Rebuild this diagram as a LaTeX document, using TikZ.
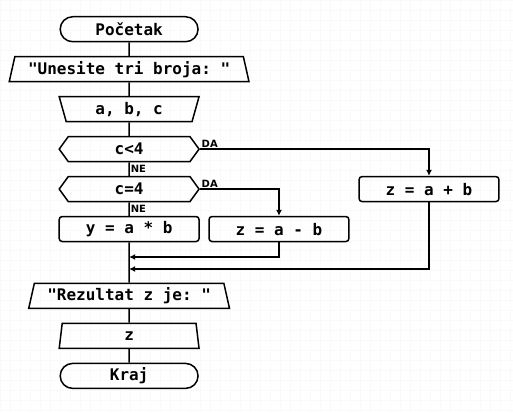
\documentclass[tikz,border=0pt]{standalone}
\usepackage{fontspec}
\setmainfont{DejaVu Sans}
\setsansfont{DejaVu Sans}
\setmonofont{DejaVu Sans Mono}
\usepackage{tikz}
\usetikzlibrary{arrows.meta,positioning,shapes.geometric,shapes.misc,shapes.symbols}

\begin{document}
\begin{tikzpicture}[x=1pt, y=-1pt,
        font=\ttfamily\bfseries\fontsize{16}{18}\selectfont,
        term/.style={draw, line width=1.5pt, rounded rectangle, minimum width=138pt, minimum height=25pt, inner sep=0pt},
        outbox/.style={draw, line width=1.5pt, trapezium, trapezium stretches body=true, trapezium angle=71, minimum height=25pt, inner sep=0pt},
        inbox/.style={draw, line width=1.5pt, trapezium, trapezium stretches body=true, trapezium angle=116, minimum height=25pt, inner sep=0pt},
        test/.style={draw, line width=1.5pt, signal, signal to=east and west, signal pointer angle=108, minimum width=140pt, minimum height=25pt, inner sep=0pt},
        proc/.style={draw, line width=1.5pt, rounded corners=3pt, minimum width=140pt, minimum height=25pt, inner sep=0pt},
        lab/.style={font=\sffamily\bfseries\fontsize{10}{12}\selectfont, inner sep=1pt},
        line/.style={line width=1.5pt},
        arr/.style={line, -{Latex[length=6pt,width=6pt]}}
    ]
        \fill[white] (0,0) rectangle (513,412);
        \draw[black!2.5, line width=0.5pt] (0,0) grid[step=10pt] (513,412);
        \useasboundingbox (0,0) rectangle (513,412);

        \node[term] (start) at (129,29) {Početak};
        \node[outbox, minimum width=240pt, below=13.5pt of start] (prompt) {"Unesite tri broja: "};
        \node[inbox, minimum width=140pt, below=13.5pt of prompt] (read) {a, b, c};
        \node[test, below=13.5pt of read] (ifless) {c<4};
        \node[test, below=13.5pt of ifless] (ifequal) {c=4};
        \node[proc, below=13.5pt of ifequal] (mul) {y = a * b};
        \node[proc, right=8.5pt of mul] (sub) {z = a - b};
        \node[proc, right=158.5pt of ifequal] (add) {z = a + b};
        \node[outbox, minimum width=201pt, below=40.5pt of mul] (result) {"Rezultat z je: "};
        \node[outbox, minimum width=140pt, below=13.5pt of result] (out) {z};
        \node[term, below=13.5pt of out] (stop) {Kraj};
        \coordinate (join1) at (129,257);
        \coordinate (join2) at (129,269);

        \draw[line] (start) -- (prompt) -- (read) -- (ifless);
        \draw[line] (ifless) -- node[lab, right]{NE} (ifequal);
        \draw[line] (ifequal) -- node[lab, right]{NE} (mul);
        \draw[arr] (ifless.east) node[lab, above right]{DA} -| (add);
        \draw[arr] (ifequal.east) node[lab, above right]{DA} -| (sub);
        \draw[line] (mul) -- (result);
        \draw[arr] (sub) |- (join1);
        \draw[arr] (add) |- (join2);
        \draw[line] (result) -- (out) -- (stop);
    \end{tikzpicture}
\end{document}
